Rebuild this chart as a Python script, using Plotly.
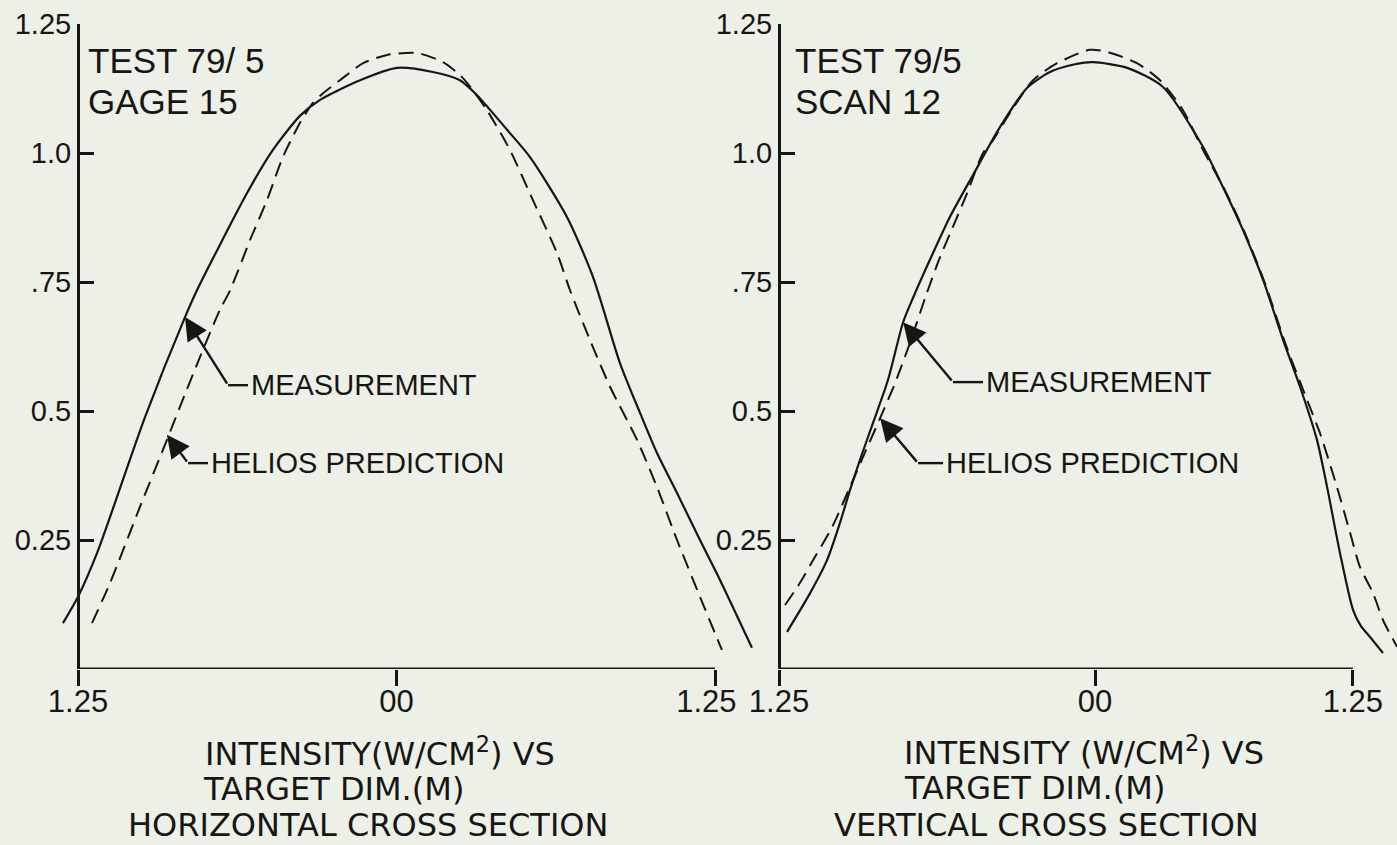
import plotly.graph_objects as go

# ---------------- data (metres vs W/cm^2) ----------------
# Horizontal cross section, TEST 79/5, GAGE 15
h_meas_x = [-1.309, -1.250, -1.175, -0.987, -0.830, -0.783, -0.587, -0.485, -0.379, -0.300,
            -0.143, 0.002, 0.143, 0.249, 0.316, 0.434, 0.524, 0.669, 0.771, 0.877,
            0.956, 1.022, 1.101, 1.191, 1.270, 1.395]
h_meas_y = [0.089, 0.140, 0.225, 0.488, 0.682, 0.734, 0.922, 1.006, 1.072, 1.103,
            1.141, 1.165, 1.157, 1.141, 1.112, 1.045, 0.992, 0.876, 0.760, 0.593,
            0.496, 0.419, 0.341, 0.250, 0.172, 0.041]
h_pred_x = [-1.195, -1.124, -1.007, -0.901, -0.850, -0.771, -0.693, -0.653, -0.575, -0.508,
            -0.446, -0.379, -0.328, -0.288, -0.222, -0.131, -0.037, 0.080, 0.182, 0.249,
            0.277, 0.355, 0.445, 0.535, 0.630, 0.681, 0.759, 0.838, 0.944, 1.022,
            1.101, 1.191, 1.277]
h_pred_y = [0.089, 0.167, 0.314, 0.444, 0.508, 0.605, 0.696, 0.734, 0.831, 0.909,
            0.992, 1.058, 1.097, 1.116, 1.141, 1.174, 1.190, 1.194, 1.176, 1.151,
            1.136, 1.083, 1.006, 0.909, 0.806, 0.734, 0.638, 0.547, 0.444, 0.353,
            0.250, 0.140, 0.037]

# Vertical cross section, TEST 79/5, SCAN 12
v_meas_x = [-1.218, -1.127, -1.060, -1.009, -0.969, -0.930, -0.878, -0.819, -0.759, -0.720,
            -0.653, -0.574, -0.483, -0.376, -0.269, -0.178, -0.079, -0.008, 0.127, 0.269,
            0.427, 0.506, 0.585, 0.665, 0.744, 0.811, 0.878, 0.918, 0.969, 1.021,
            1.052, 1.088, 1.139]
v_meas_y = [0.072, 0.147, 0.211, 0.283, 0.347, 0.405, 0.477, 0.560, 0.672, 0.719,
            0.793, 0.876, 0.957, 1.050, 1.126, 1.157, 1.172, 1.176, 1.165, 1.128,
            1.012, 0.934, 0.851, 0.754, 0.638, 0.547, 0.444, 0.353, 0.225, 0.114,
            0.083, 0.062, 0.031]
v_pred_x = [-1.226, -1.167, -1.108, -1.040, -0.969, -0.906, -0.850, -0.791, -0.732, -0.665,
            -0.613, -0.562, -0.506, -0.443, -0.403, -0.336, -0.245, -0.150, -0.020, 0.047,
            0.166, 0.257, 0.348, 0.427, 0.514, 0.593, 0.672, 0.752, 0.839, 0.890,
            0.957, 1.009, 1.048, 1.100, 1.139, 1.195]
v_pred_y = [0.124, 0.167, 0.217, 0.275, 0.353, 0.424, 0.486, 0.554, 0.632, 0.729,
            0.798, 0.857, 0.922, 1.000, 1.025, 1.078, 1.141, 1.174, 1.200, 1.196,
            1.174, 1.141, 1.083, 1.006, 0.928, 0.845, 0.748, 0.632, 0.521, 0.457,
            0.353, 0.264, 0.198, 0.147, 0.095, 0.043]

y_tick_vals = [0.25, 0.5, 0.75, 1.0, 1.25]
y_tick_text = ["0.25", "0.5", ".75", "1.0", "1.25"]
h_tick_vals = [-1.25, 0.0, 1.25]
v_tick_vals = [-1.25, 0.0, 1.02]      # vertical scan axis is drawn foreshortened
h_tick_text = ["1.25", "00", "1.25\u00a0\u00a0"]
v_tick_text = ["1.25", "00", "1.25"]

# ---------------- page geometry (pixels) ----------------
W, H = 1397, 845
INK = "#161616"
PAPER = "#edf0e6"
FONT = "Liberation Sans, Arial, sans-serif"
CAPTION_FONT = "DejaVu Sans, Liberation Sans, sans-serif"

Y0_PX, YTOP_PX = 669, 24          # y = 0 and y = 1.25
L_ORIG, L_SCALE, L_DOM = 396.5, 254.8, (50, 765)
R_ORIG, R_SCALE, R_DOM = 1095.0, 252.8, (772, 1397)


def fx(px):
    return px / W


def fy(py):
    return 1 - py / H


def xrange(dom, orig, scale):
    return [(dom[0] - orig) / scale, (dom[1] - orig) / scale]


fig = go.Figure()

solid = dict(color=INK, width=2.2, shape="spline", smoothing=0.7)
dashed = dict(color=INK, width=2.0, dash="15px,8px", shape="spline", smoothing=0.7)

fig.add_trace(go.Scatter(x=h_meas_x, y=h_meas_y, mode="lines", line=solid,
                         xaxis="x", yaxis="y", name="Measurement"))
fig.add_trace(go.Scatter(x=h_pred_x, y=h_pred_y, mode="lines", line=dashed,
                         xaxis="x", yaxis="y", name="Helios prediction"))
fig.add_trace(go.Scatter(x=v_meas_x, y=v_meas_y, mode="lines", line=solid,
                         xaxis="x2", yaxis="y2", name="Measurement"))
fig.add_trace(go.Scatter(x=v_pred_x, y=v_pred_y, mode="lines", line=dashed,
                         xaxis="x2", yaxis="y2", name="Helios prediction"))

ydom = [fy(Y0_PX), fy(YTOP_PX)]


def x_axis(dom, orig, scale, vals, text, anchor):
    return dict(domain=[fx(dom[0]), fx(dom[1])], range=xrange(dom, orig, scale),
                anchor=anchor, automargin=False, showline=False, showgrid=False,
                zeroline=False, ticks="outside", ticklen=16, tickwidth=2.5, tickcolor=INK,
                tickvals=vals, ticktext=text, ticklabelstandoff=-11,
                tickfont=dict(family=FONT, size=31, color=INK), fixedrange=True)


def y_axis(axis_px):
    return dict(domain=ydom, range=[0, 1.25], anchor="free", position=fx(axis_px),
                automargin=False, showline=True, linewidth=3, linecolor=INK,
                showgrid=False, zeroline=False, ticks="inside", ticklen=14,
                tickwidth=2.5, tickcolor=INK, tickvals=y_tick_vals, ticktext=y_tick_text,
                tickfont=dict(family=FONT, size=29, color=INK), fixedrange=True)


shapes = [
    # horizontal axis lines
    dict(type="line", xref="x", yref="y", x0=h_tick_vals[0], x1=h_tick_vals[-1], y0=0, y1=0,
         line=dict(color=INK, width=3)),
    dict(type="line", xref="x2", yref="y2", x0=v_tick_vals[0], x1=v_tick_vals[-1], y0=0, y1=0,
         line=dict(color=INK, width=3)),
]

annotations = []


def label_arrow(xr, yr, tip, bend, end_x, text):
    # arrow from the bend to the curve, horizontal leader, then the label
    annotations.append(dict(x=tip[0], y=tip[1], ax=bend[0], ay=bend[1], xref=xr, yref=yr,
                            axref=xr, ayref=yr, text="", showarrow=True, arrowhead=2,
                            arrowsize=1.9, arrowwidth=2.4, arrowcolor=INK, standoff=0))
    shapes.append(dict(type="line", xref=xr, yref=yr, x0=bend[0], x1=end_x,
                       y0=bend[1], y1=bend[1], line=dict(color=INK, width=2.4)))
    annotations.append(dict(x=end_x, y=bend[1], xref=xr, yref=yr, text=text,
                            showarrow=False, xanchor="left", yanchor="middle", xshift=1,
                            font=dict(family=FONT, size=29, color=INK)))


label_arrow("x", "y", (h_meas_x[4], h_meas_y[4]), (-0.661, 0.550), -0.583, "MEASUREMENT")
label_arrow("x", "y", (h_pred_x[3], h_pred_y[3] + 0.01), (-0.818, 0.399), -0.740,
            "HELIOS PREDICTION")
label_arrow("x2", "y2", (v_meas_x[8], v_meas_y[8]), (-0.562, 0.556), -0.443, "MEASUREMENT")
label_arrow("x2", "y2", (v_pred_x[6], v_pred_y[6]), (-0.700, 0.399), -0.601,
            "HELIOS PREDICTION")


def page_text(px, py, text, family=FONT, size=35):
    annotations.append(dict(x=fx(px), y=fy(py), xref="paper", yref="paper", text=text,
                            showarrow=False, xanchor="left", yanchor="middle",
                            font=dict(family=family, size=size, color=INK)))


page_text(86, 60, "TEST 79/ 5")
page_text(86, 102, "GAGE 15")
page_text(793, 60, "TEST 79/5")
page_text(793, 101, "SCAN 12")

page_text(203, 752, "INTENSITY(W/CM<sup>2</sup>) VS", CAPTION_FONT, 32)
page_text(201, 789, "TARGET DIM.(M)", CAPTION_FONT, 32)
page_text(126, 825, "HORIZONTAL CROSS SECTION", CAPTION_FONT, 32)
page_text(902, 751, "INTENSITY (W/CM<sup>2</sup>) VS", CAPTION_FONT, 32)
page_text(902, 788, "TARGET DIM.(M)", CAPTION_FONT, 32)
page_text(832, 825, "VERTICAL CROSS SECTION", CAPTION_FONT, 32)

fig.update_layout(
    width=W, height=H, margin=dict(l=0, r=0, t=0, b=0, autoexpand=False),
    paper_bgcolor=PAPER, plot_bgcolor=PAPER, showlegend=False,
    xaxis=x_axis(L_DOM, L_ORIG, L_SCALE, h_tick_vals, h_tick_text, "y"),
    xaxis2=x_axis(R_DOM, R_ORIG, R_SCALE, v_tick_vals, v_tick_text, "y2"),
    yaxis=y_axis(L_ORIG - 1.25 * L_SCALE),
    yaxis2=y_axis(R_ORIG - 1.25 * R_SCALE),
    shapes=shapes, annotations=annotations,
)

fig.write_html("out.html", config=dict(displayModeBar=False))
